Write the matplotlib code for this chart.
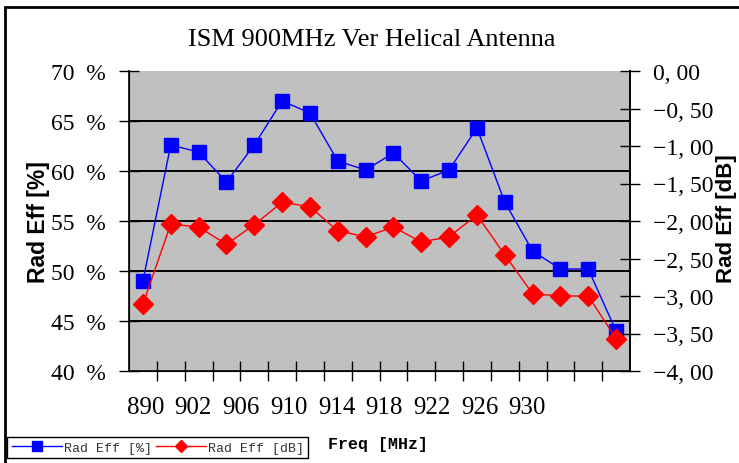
import matplotlib.pyplot as plt
from matplotlib.lines import Line2D
from matplotlib.patches import Rectangle

# values
eff_pct = [49.0, 62.6, 61.9, 58.9, 62.6, 67.0, 65.8, 61.0, 60.1,
           61.8, 59.0, 60.1, 64.3, 56.9, 52.0, 50.2, 50.2, 44.0]
eff_db = [-3.11, -2.04, -2.08, -2.31, -2.05, -1.75, -1.81, -2.13, -2.21,
          -2.08, -2.28, -2.21, -1.92, -2.45, -2.97, -3.00, -3.00, -3.57]
freq_labels = ['890', '902', '906', '910', '914', '918', '922', '926', '930']
pct_ticks = [40, 45, 50, 55, 60, 65, 70]
db_ticks = [0, -0.5, -1.0, -1.5, -2.0, -2.5, -3.0, -3.5, -4.0]

serif = 'Liberation Serif'
blue = '#0000ff'
red = '#ff0000'

W, H = 739, 464
fig = plt.figure(figsize=(W / 100, H / 100), dpi=100)

# outer frame (right and bottom edges run off the picture)
fig.patches.append(Rectangle((5 / W, -0.2), 1.2, 1.2 - 8 / H,
                             transform=fig.transFigure, fill=False,
                             edgecolor='black', linewidth=2, zorder=0))

ax = fig.add_axes([129 / W, 1 - 372 / H, 501 / W, 300 / H])
ax.set_facecolor('#c0c0c0')
x = list(range(len(eff_pct)))

ax.set_ylim(40, 70)
ax.set_xlim(-0.5, len(eff_pct) - 0.5)
for v in pct_ticks[1:-1]:
    ax.axhline(v, color='black', linewidth=1.4, zorder=1)

ax.plot(x, eff_pct, color=blue, linewidth=1, marker='s', markersize=10,
        markeredgecolor=blue, zorder=4)

ax.set_yticks(pct_ticks)
ax.set_yticklabels([f'{v}  %' for v in pct_ticks], fontfamily=serif, fontsize=17)
ax.set_xticks([i + 0.5 for i in x[:-1]])
ax.set_xticklabels([])
ax.tick_params(direction='inout', length=15, width=1, color='black')
ax.tick_params(axis='y', pad=9)
ax.spines['top'].set_visible(False)
for s in ['left', 'bottom', 'right']:
    ax.spines[s].set_linewidth(1.2)

ax.set_ylabel('Rad Eff [%]', fontfamily='Liberation Sans', fontweight='bold',
              fontsize=16.5, labelpad=1)

ax2 = ax.twinx()
ax2.set_ylim(-4, 0)
ax2.plot(x, eff_db, color=red, linewidth=1, marker='D', markersize=10,
         markeredgecolor=red, zorder=4)
ax2.set_yticks(db_ticks)
ax2.set_yticklabels([('0, 00' if v == 0 else '\u2212' + f'{abs(v):.2f}'.replace('.', ', '))
                     for v in db_ticks], fontfamily=serif, fontsize=17)
ax2.tick_params(direction='inout', length=15, width=1, color='black', pad=9)
ax2.spines['top'].set_visible(False)
ax2.spines['right'].set_linewidth(1.2)
ax2.set_ylabel('Rad Eff [dB]', fontfamily='Liberation Sans', fontweight='bold',
               fontsize=16)
ax2.yaxis.set_label_coords((726 - 129) / 501, 0.51)
ax2.yaxis.label.set_va('center')

fig.text(372 / W, 1 - 40 / H, 'ISM 900MHz Ver Helical Antenna',
         ha='center', va='center', fontfamily=serif, fontsize=19)

# category labels sit in a row under the axis, as in the source sheet
for i, lab in enumerate(freq_labels):
    fig.text((127 + i * 47.7) / W, 1 - 408 / H, lab, ha='left', va='center',
             fontfamily=serif, fontsize=18)

fig.text(328 / W, 1 - 445 / H, 'Freq [MHz]', ha='left', va='center',
         fontfamily='Liberation Mono', fontweight='bold', fontsize=12)

handles = [Line2D([], [], color=blue, linewidth=1, marker='s', markersize=7),
           Line2D([], [], color=red, linewidth=1, marker='D', markersize=6)]
leg = fig.legend(handles, ['Rad Eff [%]', 'Rad Eff [dB]'], ncol=2,
                 loc='upper left', bbox_to_anchor=(7 / W, 1 - 438 / H),
                 prop={'family': 'Liberation Mono', 'size': 9.5},
                 fancybox=False, edgecolor='black', framealpha=1,
                 handlelength=3.8, handletextpad=0.15, columnspacing=0.3,
                 borderpad=0.35, borderaxespad=0)
leg.get_frame().set_linewidth(1)
for t in leg.get_texts():
    t.set_color('#333333')

fig.savefig('out.png', dpi=100)
